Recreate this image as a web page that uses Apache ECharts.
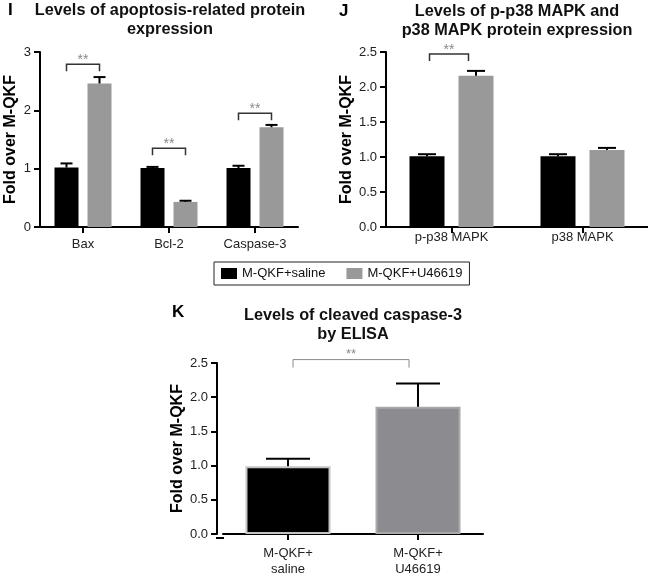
<!DOCTYPE html>
<html>
<head>
<meta charset="utf-8">
<script src="https://cdn.jsdelivr.net/npm/echarts@6/dist/echarts.min.js"></script>
<style>
html,body{margin:0;padding:0;background:#fff;}
#chart{width:648px;height:577px;}
</style>
</head>
<body>
<div id="chart"></div>
<script>
// ---------- data ----------
const seriesNames = ['M-QKF+saline', 'M-QKF+U46619'];

// Panel I
const catI = ['Bax', 'Bcl-2', 'Caspase-3'];
const salineI = [1.02, 1.01, 1.01];
const salineErrI = [0.07, 0.02, 0.04];
const u46619I = [2.46, 0.43, 1.71];
const u46619ErrI = [0.11, 0.02, 0.04];
const sigI = [[0, 0, 2.79], [1, 1, 1.35], [2, 2, 1.95]];
const yTicksI = [0, 1, 2, 3];

// Panel J
const catJ = ['p-p38 MAPK', 'p38 MAPK'];
const salineJ = [1.01, 1.01];
const salineErrJ = [0.03, 0.03];
const u46619J = [2.16, 1.10];
const u46619ErrJ = [0.07, 0.03];
const sigJ = [[0, 0, 2.47]];
const yTicksJ = [0.0, 0.5, 1.0, 1.5, 2.0, 2.5];

// Panel K
const catK = ['M-QKF+\nsaline', 'M-QKF+\nU46619'];
const valK = [0.99, 1.86];
const errK = [0.11, 0.34];
const sigK = [[0, 1, 2.55]];
const yTicksK = [0.0, 0.5, 1.0, 1.5, 2.0, 2.5];

// ---------- style ----------
const FONT = '"Liberation Sans", Arial, Helvetica, sans-serif';
const BLACK = '#000000';
const GRAY = '#999999';
const GRAYK = '#8c8c90';

function errRender(offset, capHalf) {
  return function (params, api) {
    const x = api.value(0), v = api.value(1), e = api.value(2);
    const base = api.coord([x, v]);
    const top = api.coord([x, v + e]);
    const cx = base[0] + offset;
    return {
      type: 'group',
      children: [
        { type: 'line', shape: { x1: cx, y1: base[1], x2: cx, y2: top[1] }, style: { stroke: '#000', lineWidth: 2 } },
        { type: 'line', shape: { x1: cx - capHalf, y1: top[1], x2: cx + capHalf, y2: top[1] }, style: { stroke: '#000', lineWidth: 2 } }
      ]
    };
  };
}

function sigRender(dxA, dxB, drop, stroke, lw, fs, textUp) {
  return function (params, api) {
    const a = api.coord([api.value(0), api.value(2)]);
    const b = api.coord([api.value(1), api.value(2)]);
    const x1 = a[0] + dxA, x2 = b[0] + dxB, y = a[1];
    return {
      type: 'group',
      children: [
        { type: 'polyline', shape: { points: [[x1, y + drop], [x1, y], [x2, y], [x2, y + drop]] },
          style: { stroke: stroke, lineWidth: lw, fill: 'none' } },
        { type: 'text', x: (x1 + x2) / 2, y: y - textUp,
          style: { text: '**', fill: '#8a8a8a', fontSize: fs, fontFamily: FONT, align: 'center', verticalAlign: 'middle' } }
      ]
    };
  };
}

function yAxisCfg(gridIndex, ticks, decimals, nameGap, offset) {
  return {
    type: 'value', gridIndex: gridIndex,
    min: ticks[0], max: ticks[ticks.length - 1], interval: ticks[1] - ticks[0],
    offset: offset || 0,
    name: 'Fold over M-QKF', nameLocation: 'middle', nameGap: nameGap,
    nameTextStyle: { fontSize: 16, fontWeight: 'bold', color: '#000', fontFamily: FONT },
    axisLine: { show: true, lineStyle: { color: '#000', width: 2 } },
    axisTick: { show: true, length: 6, lineStyle: { color: '#000', width: 2 } },
    axisLabel: { fontSize: 13, color: '#222', margin: 9, fontFamily: FONT,
      formatter: function (v) { return v.toFixed(decimals); } },
    splitLine: { show: false }
  };
}

function xAxisCfg(gridIndex, cats, margin, lineHeight) {
  return {
    type: 'category', gridIndex: gridIndex, data: cats,
    axisLine: { show: true, lineStyle: { color: '#000', width: 2 } },
    axisTick: { show: true, alignWithLabel: true, length: 6, lineStyle: { color: '#000', width: 2 } },
    axisLabel: { fontSize: 13, color: '#222', margin: margin, fontFamily: FONT, lineHeight: lineHeight || 15, interval: 0 },
    splitLine: { show: false }
  };
}

const chart = echarts.init(document.getElementById('chart'), null, { renderer: 'canvas' });

const option = {
  animation: false,
  backgroundColor: '#ffffff',
  textStyle: { fontFamily: FONT },
  grid: [
    { left: 40, top: 52, width: 258, height: 175 },
    { left: 386, top: 52, width: 262, height: 175 },
    { left: 223, top: 363, width: 260, height: 175 }
  ],
  xAxis: [
    xAxisCfg(0, catI, 10),
    xAxisCfg(1, catJ, 3),
    xAxisCfg(2, catK, 11, 16)
  ],
  yAxis: [
    yAxisCfg(0, yTicksI, 0, 21),
    yAxisCfg(1, yTicksJ, 1, 25),
    yAxisCfg(2, yTicksK, 1, 25, 6)
  ],
  legend: {
    data: seriesNames,
    left: 214, top: 262,
    orient: 'horizontal',
    icon: 'rect', itemWidth: 16, itemHeight: 11, itemGap: 21,
    padding: [5, 7, 5, 7],
    borderColor: '#222', borderWidth: 1,
    textStyle: { fontSize: 13, color: '#111', fontFamily: FONT },
    selectedMode: false
  },
  graphic: [
    { type: 'text', x: 8, y: 2, style: { text: 'I', fontSize: 17, fontWeight: 'bold', fill: '#000', fontFamily: FONT, align: 'left', verticalAlign: 'top' } },
    { type: 'text', x: 170, y: 1, style: { text: 'Levels of apoptosis-related protein\nexpression', fontSize: 16.3, lineHeight: 19, fontWeight: 'bold', fill: '#111', fontFamily: FONT, align: 'center', verticalAlign: 'top' } },
    { type: 'text', x: 339, y: 3, style: { text: 'J', fontSize: 17, fontWeight: 'bold', fill: '#000', fontFamily: FONT, align: 'left', verticalAlign: 'top' } },
    { type: 'text', x: 517, y: 2, style: { text: 'Levels of p-p38 MAPK and\np38 MAPK protein expression', fontSize: 16.3, lineHeight: 19, fontWeight: 'bold', fill: '#111', fontFamily: FONT, align: 'center', verticalAlign: 'top' } },
    { type: 'text', x: 172, y: 304, style: { text: 'K', fontSize: 17, fontWeight: 'bold', fill: '#000', fontFamily: FONT, align: 'left', verticalAlign: 'top' } },
    { type: 'text', x: 353, y: 306, style: { text: 'Levels of cleaved caspase-3\nby ELISA', fontSize: 16.3, lineHeight: 19, fontWeight: 'bold', fill: '#111', fontFamily: FONT, align: 'center', verticalAlign: 'top' } },
    // short axis-line filler joining K's offset y axis to its x axis
    { type: 'line', shape: { x1: 216, y1: 538, x2: 224, y2: 538 }, style: { stroke: '#000', lineWidth: 2 } }
  ],
  series: [
    // Panel I
    { name: seriesNames[0], type: 'bar', xAxisIndex: 0, yAxisIndex: 0, data: salineI, barWidth: 24, barGap: '37.5%',
      itemStyle: { color: BLACK } },
    { name: seriesNames[1], type: 'bar', xAxisIndex: 0, yAxisIndex: 0, data: u46619I, barWidth: 24, barGap: '37.5%',
      itemStyle: { color: GRAY } },
    { type: 'custom', xAxisIndex: 0, yAxisIndex: 0, z: 5, renderItem: errRender(-16.5, 6),
      data: catI.map((c, i) => [i, salineI[i], salineErrI[i]]) },
    { type: 'custom', xAxisIndex: 0, yAxisIndex: 0, z: 5, renderItem: errRender(16.5, 6),
      data: catI.map((c, i) => [i, u46619I[i], u46619ErrI[i]]) },
    { type: 'custom', xAxisIndex: 0, yAxisIndex: 0, z: 5, renderItem: sigRender(-16.5, 16.5, 7, '#333', 1.5, 14, 4),
      data: sigI },

    // Panel J
    { name: seriesNames[0], type: 'bar', xAxisIndex: 1, yAxisIndex: 1, data: salineJ, barWidth: 35, barGap: '40%',
      itemStyle: { color: BLACK } },
    { name: seriesNames[1], type: 'bar', xAxisIndex: 1, yAxisIndex: 1, data: u46619J, barWidth: 35, barGap: '40%',
      itemStyle: { color: GRAY } },
    { type: 'custom', xAxisIndex: 1, yAxisIndex: 1, z: 5, renderItem: errRender(-24.5, 9),
      data: catJ.map((c, i) => [i, salineJ[i], salineErrJ[i]]) },
    { type: 'custom', xAxisIndex: 1, yAxisIndex: 1, z: 5, renderItem: errRender(24.5, 9),
      data: catJ.map((c, i) => [i, u46619J[i], u46619ErrJ[i]]) },
    { type: 'custom', xAxisIndex: 1, yAxisIndex: 1, z: 5, renderItem: sigRender(-22, 17, 7, '#333', 1.5, 14, 4),
      data: sigJ },

    // Panel K
    { name: 'K', type: 'bar', xAxisIndex: 2, yAxisIndex: 2, barWidth: 85,
      data: [
        { value: valK[0], itemStyle: { color: BLACK, borderColor: '#c4c4c4', borderWidth: 2 } },
        { value: valK[1], itemStyle: { color: GRAYK, borderColor: '#a9a9a9', borderWidth: 2 } }
      ] },
    { type: 'custom', xAxisIndex: 2, yAxisIndex: 2, z: 5, renderItem: errRender(0, 22),
      data: catK.map((c, i) => [i, valK[i], errK[i]]) },
    { type: 'custom', xAxisIndex: 2, yAxisIndex: 2, z: 5, renderItem: sigRender(5, -9, 8, '#8a8a8a', 1, 13, 5),
      data: sigK }
  ]
};

chart.setOption(option);
</script>
</body>
</html>
